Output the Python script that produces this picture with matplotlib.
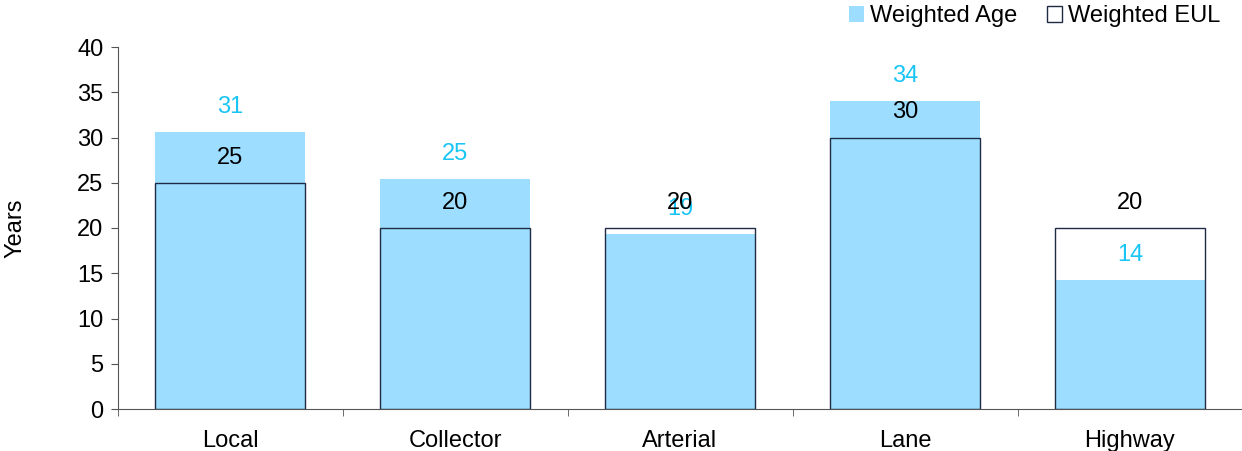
import matplotlib
matplotlib.use("Agg")
import matplotlib.pyplot as plt
from matplotlib.patches import Patch
import numpy as np

categories = ["Local", "Collector", "Arterial", "Lane", "Highway"]
weighted_age = [30.6, 25.4, 19.3, 34.0, 14.2]
weighted_eul = [25, 20, 20, 30, 20]
age_labels = ["31", "25", "19", "34", "14"]
eul_labels = ["25", "20", "20", "30", "20"]

plt.rcParams['font.family'] = ['Liberation Sans', 'DejaVu Sans']
FS = 17

fig = plt.figure(figsize=(12.42, 4.51), dpi=100)
ax = fig.add_axes([117.5/1242, 42/451, 1125/1242, 362/451])

x = np.arange(len(categories))
fill_c = "#9DDDFF"
edge_c = "#1F2B45"
lab_c = "#19C5F5"
w = 0.667

ax.bar(x, weighted_age, width=w, color=fill_c, edgecolor="none", zorder=2)
ax.bar(x, weighted_eul, width=w, facecolor="none", edgecolor=edge_c, linewidth=1.0, zorder=3)

for xi, a, e, al, el in zip(x, weighted_age, weighted_eul, age_labels, eul_labels):
    ax.annotate(al, (xi, a), xytext=(0, 18), textcoords="offset points",
                ha="center", va="center", color=lab_c, fontsize=FS, zorder=4)
    ax.annotate(el, (xi, e), xytext=(0, 18), textcoords="offset points",
                ha="center", va="center", color="black", fontsize=FS, zorder=5)

ax.set_xlim(-0.5, 4.5)
ax.set_ylim(0, 40)
ax.set_yticks(range(0, 41, 5))
ax.set_xticks(x)
ax.set_xticklabels(categories)
ax.set_xticks(np.arange(-0.5, 5, 1), minor=True)
ax.tick_params(axis="x", which="major", length=0, pad=15, labelsize=FS)
ax.tick_params(axis="x", which="minor", length=5, direction="out", color="#555555")
ax.tick_params(axis="y", length=5, direction="out", labelsize=FS, color="#555555", pad=5)
for s in ["top", "right"]:
    ax.spines[s].set_visible(False)
for s in ["left", "bottom"]:
    ax.spines[s].set_color("#555555")
ax.set_ylabel("Years", fontsize=FS)
ax.yaxis.set_label_coords(-0.081, 0.5)

handles = [Patch(facecolor=fill_c, edgecolor="none", label="Weighted Age"),
           Patch(facecolor="white", edgecolor=edge_c, linewidth=1.0, label="Weighted EUL")]
fig.legend(handles=handles, loc="upper right", bbox_to_anchor=(1.0, 1.035), ncol=2,
           frameon=False, fontsize=FS, handlelength=0.65, handleheight=0.65,
           handletextpad=0.25, columnspacing=1.25)

fig.savefig("out.png", dpi=100)
